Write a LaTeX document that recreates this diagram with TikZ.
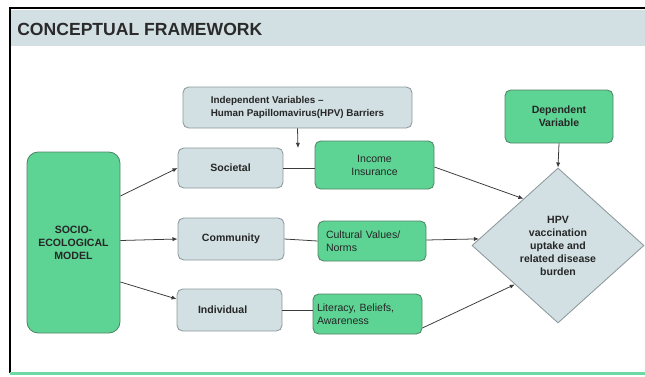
\documentclass[tikz,border=0pt]{standalone}
\usepackage{fontspec}
\setmainfont{Liberation Sans}
\usetikzlibrary{arrows.meta, positioning, shapes.geometric, calc}

\definecolor{boxgreen}{HTML}{5DD394}
\definecolor{boxgreenline}{HTML}{4F8466}
\definecolor{boxgrey}{HTML}{D2E0E3}
\definecolor{boxgreyline}{HTML}{8C989C}
\definecolor{headband}{HTML}{D2E0E3}
\definecolor{footline}{HTML}{6FD9A3}
\definecolor{linkcol}{HTML}{3A3A3A}
\definecolor{titlecol}{HTML}{2A2A2A}

\begin{document}
\begin{tikzpicture}[
    x=0.025cm, y=-0.025cm,
    >={Latex[length=3.6pt,width=3pt]},
    lbl/.style={font=\fontsize{7.5}{9.25}\selectfont, text=black!85},
    lblb/.style={font=\fontsize{7.5}{9.25}\selectfont\bfseries, text=black!85},
    greybox/.style={draw=boxgreyline, fill=boxgrey, rounded corners=4pt, line width=0.6pt, align=center, inner sep=0pt},
    greenbox/.style={draw=boxgreenline, fill=boxgreen, rounded corners=4pt, line width=0.6pt, align=center, inner sep=0pt},
    link/.style={draw=linkcol, line width=0.55pt},
]
\def\px{0.025cm}
\useasboundingbox (0,0) rectangle (645,376);

% Page frame and title band
\fill[headband] (10,10) rectangle (645,46);
\draw[black, line width=1pt] (10,373) -- (10,8) -- (645,8);
\fill[footline] (10,371.5) rectangle (645,375);
\node[anchor=base west, font=\fontsize{12.5}{14}\selectfont\bfseries, text=titlecol, inner sep=0pt]
     (title) at (17,35) {CONCEPTUAL FRAMEWORK};

% Model on the left
\node[greenbox, lblb, rounded corners=8pt, minimum width=93*\px, minimum height=181*\px]
     (sem) at (73.5,242.5) {SOCIO-\\ECOLOGICAL\\MODEL};

% Barrier levels
\node[greybox, lblb, minimum width=105*\px, minimum height=40*\px] (soc) at (230.5,168) {Societal};
\node[greybox, lblb, minimum width=106*\px, minimum height=42*\px] (com) at (231,239)   {Community};
\node[greybox, lblb, minimum height=42*\px, align=left,
      inner xsep=21*\px, text width=63*\px] (ind) at (229.5,310) {Individual};

% Barriers at each level
\node[greenbox, lbl, minimum width=119*\px, minimum height=48*\px] (inc) at (374.5,165) {Income\\Insurance};
\node[greenbox, lbl, minimum height=40*\px, align=left,
      inner xsep=8*\px, text width=92*\px] (cul) at (372,241) {Cultural Values/\\Norms};
\node[greenbox, lbl, minimum height=40*\px, align=left,
      inner xsep=4*\px, text width=101*\px] (lit) at (367.5,314) {Literacy, Beliefs,\\Awareness};

% Headings for the two kinds of variable
\node[greybox, lblb, font=\fontsize{7}{9.25}\selectfont\bfseries, align=left,
      minimum width=229*\px, minimum height=41*\px] (indep) at (297.5,107.5)
     {Independent Variables --\\Human Papillomavirus(HPV) Barriers};
\node[greenbox, lblb, minimum width=108*\px, minimum height=53*\px] (dep) at (559,116.5)
     {Dependent\\Variable};

% Outcome
\node[diamond, draw=boxgreyline, fill=boxgrey, line width=0.6pt, lblb, align=center,
      inner sep=0pt, minimum width=172*\px, minimum height=155*\px] (out) at (558,245.5)
     {HPV\\vaccination\\uptake and\\related disease\\burden};

% Connectors
\coordinate (gap) at (298,148);
\draw[link, ->] (indep.south) -- (gap);
\draw[link, ->] (dep.south) -- (out.north);

\draw[link, ->] ($(sem.east)+(0,-46.5)$) -- (soc.west);
\draw[link, ->] ($(sem.east)+(0,-2)$) -- (com.west);
\draw[link, ->] ($(sem.east)+(0,39.5)$) -- ($(ind.west)+(0,-11)$);

\draw[link] (soc.east) -- (soc.east -| inc.west);
\draw[link] (com.east) -- (cul.west);
\draw[link] (ind.east) -- (ind.east -| lit.west);

\draw[link, ->] ($(inc.east)+(0,2)$) -- ($(out.north west)!0.2!(out.north)$);
\draw[link, ->] ($(cul.east)+(0,-1)$) -- ($(out.west)!0.17!(out.north west)$);
\draw[link, ->] ($(lit.east)+(0,14)$) -- (out.south west);

\end{tikzpicture}
\end{document}
